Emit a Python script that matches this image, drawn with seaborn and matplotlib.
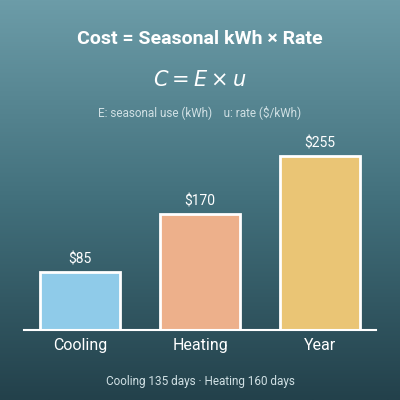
import matplotlib
matplotlib.use("Agg")
import matplotlib.pyplot as plt
import seaborn as sns
import numpy as np
import pandas as pd

categories = ["Cooling", "Heating", "Year"]
costs = [85, 170, 255]
labels = ["$85", "$170", "$255"]
colors = ["#80d0f8", "#fdac7b", "#fdcc62"]

sns.set_style("white")
plt.rcParams['font.family'] = ['Roboto', 'DejaVu Sans']

fig = plt.figure(figsize=(4, 4), dpi=100)
bg = fig.add_axes([0, 0, 1, 1])
grad = np.linspace(0, 1, 256).reshape(-1, 1)
from matplotlib.colors import LinearSegmentedColormap
cmap = LinearSegmentedColormap.from_list("bg", ["#6c9ca8", "#42707c", "#23414b"])
bg.imshow(grad, aspect="auto", cmap=cmap, extent=[0, 1, 0, 1], origin="upper")
bg.axis("off")

ax = fig.add_axes([0.06, 0.175, 0.88, 0.5])
ax.patch.set_alpha(0)
df = pd.DataFrame({"cat": categories, "cost": costs})
sns.barplot(data=df, x="cat", y="cost", hue="cat", palette=colors, legend=False,
            width=0.667, edgecolor="white", linewidth=2, ax=ax)
ax.set_xlim(-0.467, 2.467)
ax.set_ylim(0, 293)
for i, (v, l) in enumerate(zip(costs, labels)):
    ax.text(i, v + 8, l, ha="center", va="bottom", color="white", fontsize=10)
for s in ["top", "right", "left"]:
    ax.spines[s].set_visible(False)
ax.spines["bottom"].set_color("white")
ax.spines["bottom"].set_linewidth(1.5)
ax.set_yticks([])
ax.set_xlabel("")
ax.set_ylabel("")
ax.tick_params(axis="x", colors="white", labelsize=11.5, length=0, pad=6)

fig.text(0.5, 0.902, "Cost = Seasonal kWh × Rate", ha="center", va="center",
         color="white", fontsize=14, fontweight="bold")
fig.text(0.5, 0.8, r"$C = E \times u$", ha="center", va="center", color="white", fontsize=15)
fig.text(0.5, 0.72, "E: seasonal use (kWh)    u: rate ($/kWh)", ha="center", va="center",
         color="#d0e0e4", fontsize=8.5)
fig.text(0.5, 0.047, "Cooling 135 days · Heating 160 days", ha="center", va="center",
         color="#d0e0e4", fontsize=8.5)

fig.savefig("out.png", dpi=100)
